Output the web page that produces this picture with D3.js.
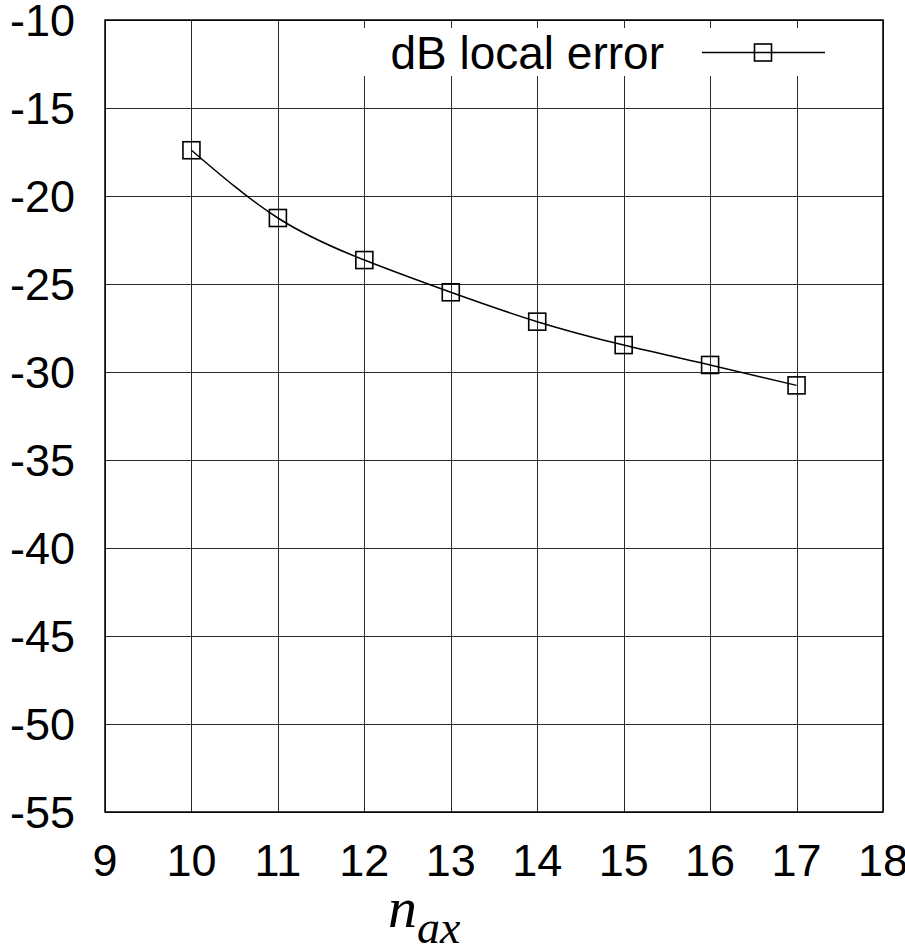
<html lang="en">
<head>
  <script src="https://d3js.org/d3.v7.min.js"></script>
  <style>
    body { margin: 0; background: white; }
    svg text { font-family: "Liberation Sans", Arial, sans-serif; fill: black; }
  </style>
</head>
<body>
  <svg id="chart" width="905" height="952"></svg>
  <script>
    // values
    const nax = [10, 11, 12, 13, 14, 15, 16, 17];
    const dbError = [-17.4, -21.25, -23.64, -25.47, -27.14, -28.47, -29.6, -30.76];
    const xTicks = [9, 10, 11, 12, 13, 14, 15, 16, 17, 18];
    const yTicks = [-10, -15, -20, -25, -30, -35, -40, -45, -50, -55];
    const legendLabel = "dB local error";

    const svg = d3.select("#chart");
    const plot = { left: 105, right: 883, top: 20, bottom: 812 };

    const x = d3.scaleLinear().domain([9, 18]).range([plot.left, plot.right]);
    const y = d3.scaleLinear().domain([-55, -10]).range([plot.bottom, plot.top]);

    // grid
    const grid = svg.append("g").attr("stroke", "#2a2a2a").attr("stroke-width", 1);
    grid.selectAll(".vx").data(xTicks).enter().append("line")
      .attr("x1", d => Math.round(x(d)) + 0.5).attr("x2", d => Math.round(x(d)) + 0.5)
      .attr("y1", plot.top).attr("y2", plot.bottom);
    grid.selectAll(".hy").data(yTicks).enter().append("line")
      .attr("y1", d => Math.round(y(d)) + 0.5).attr("y2", d => Math.round(y(d)) + 0.5)
      .attr("x1", plot.left).attr("x2", plot.right);

    // key box blanks out the grid behind it
    svg.append("rect")
      .attr("x", 340).attr("y", 28).attr("width", 505).attr("height", 48)
      .attr("fill", "white");

    // ticks along top (visible inside the key gap)
    svg.append("g").selectAll("line").data(xTicks).enter().append("line")
      .attr("x1", d => Math.round(x(d)) + 0.5).attr("x2", d => Math.round(x(d)) + 0.5)
      .attr("y1", plot.top).attr("y2", plot.top + 8)
      .attr("stroke", "#2a2a2a").attr("stroke-width", 1);

    // frame
    svg.append("rect")
      .attr("x", plot.left).attr("y", plot.top)
      .attr("width", plot.right - plot.left).attr("height", plot.bottom - plot.top)
      .attr("fill", "none").attr("stroke", "black").attr("stroke-width", 1.5);

    // tick labels
    svg.append("g").selectAll("text").data(yTicks).enter().append("text")
      .attr("x", 75).attr("y", d => y(d)).attr("dy", "0.36em")
      .attr("text-anchor", "end").style("font-size", "45px")
      .text(d => d);
    svg.append("g").selectAll("text").data(xTicks).enter().append("text")
      .attr("x", d => x(d)).attr("y", 876)
      .attr("text-anchor", "middle").style("font-size", "45px")
      .text(d => d);

    // x label n_ax
    const xl = svg.append("text").attr("x", 388).attr("y", 927)
      .style("font-family", "'Liberation Serif', 'DejaVu Serif', serif")
      .style("font-style", "italic");
    xl.append("tspan").style("font-size", "58px").text("n");
    xl.append("tspan").style("font-size", "46px").attr("dy", 16).text("ax");

    // series
    const pts = nax.map((d, i) => [d, dbError[i]]);
    const line = d3.line().x(d => x(d[0])).y(d => y(d[1])).curve(d3.curveNatural);
    svg.append("path").datum(pts)
      .attr("d", line).attr("fill", "none")
      .attr("stroke", "black").attr("stroke-width", 1.5);

    const sq = 17;
    svg.append("g").selectAll("rect").data(pts).enter().append("rect")
      .attr("x", d => x(d[0]) - sq / 2).attr("y", d => y(d[1]) - sq / 2)
      .attr("width", sq).attr("height", sq)
      .attr("fill", "none").attr("stroke", "black").attr("stroke-width", 1.6);

    // legend
    svg.append("text").attr("x", 664).attr("y", 69)
      .attr("text-anchor", "end").style("font-size", "46px")
      .text(legendLabel);
    svg.append("line").attr("x1", 702).attr("x2", 825).attr("y1", 52.5).attr("y2", 52.5)
      .attr("stroke", "black").attr("stroke-width", 1.5);
    svg.append("rect").attr("x", 763 - sq / 2).attr("y", 52.5 - sq / 2)
      .attr("width", sq).attr("height", sq)
      .attr("fill", "none").attr("stroke", "black").attr("stroke-width", 1.6);
  </script>
</body>
</html>
